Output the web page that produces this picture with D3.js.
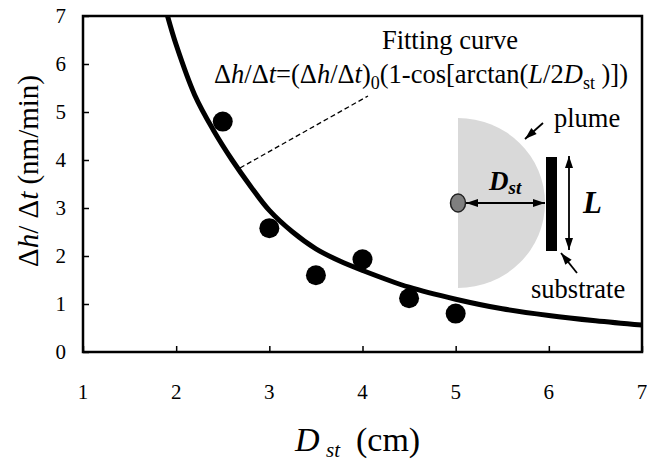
<!DOCTYPE html>
<html>
<head>
<meta charset="utf-8">
<script src="https://cdn.jsdelivr.net/npm/d3@7"></script>
<style>
  body { margin: 0; background: #fff; }
</style>
</head>
<body>
<svg id="chart" width="647" height="463"></svg>
<script>
// measured points (D_st in cm, deposition rate in nm/min)
const distances = [2.5, 3, 3.5, 4, 4.5, 5];
const rates = [4.8, 2.58, 1.6, 1.93, 1.12, 0.8];

// fitting curve
const curveD = [1.9, 2.0, 2.2, 2.4, 2.6, 2.8, 3.0, 3.25, 3.5, 3.75, 4.0, 4.5, 5.0, 5.5, 6.0, 6.5, 7.0];
const curveRate = [7.05, 6.4, 5.35, 4.62, 4.0, 3.45, 2.95, 2.5, 2.15, 1.9, 1.7, 1.35, 1.1, 0.9, 0.76, 0.65, 0.56];

const xTicks = [1, 2, 3, 4, 5, 6, 7];
const yTicks = [0, 1, 2, 3, 4, 5, 6, 7];

const cfg = {
  left: 83, right: 642, top: 16, bottom: 352,
  frameWidth: 2.5,
  tickLen: 6,
  tickFont: 21,
  noteFont: 26.5,
  pointR: 10,
  curveWidth: 5,
  font: "Liberation Serif",
};

const svg = d3.select("#chart");

const x = d3.scaleLinear().domain([1, 7]).range([cfg.left, cfg.right]);
const y = d3.scaleLinear().domain([0, 7]).range([cfg.bottom, cfg.top]);

svg.append("defs").append("clipPath").attr("id", "plot-clip")
  .append("rect")
  .attr("x", cfg.left).attr("y", cfg.top)
  .attr("width", cfg.right - cfg.left).attr("height", cfg.bottom - cfg.top);

// axes with inward ticks
const xAxis = svg.append("g")
  .attr("transform", `translate(0,${cfg.bottom})`)
  .call(d3.axisTop(x).tickValues(xTicks).tickSize(cfg.tickLen).tickFormat(""));
const yAxis = svg.append("g")
  .attr("transform", `translate(${cfg.left},0)`)
  .call(d3.axisRight(y).tickValues(yTicks).tickSize(cfg.tickLen).tickFormat(""));
[xAxis, yAxis].forEach((g) => {
  g.select(".domain").remove();
  g.selectAll(".tick line").attr("stroke", "#000").attr("stroke-width", 1.5);
});

// tick labels
svg.append("g").selectAll("text")
  .data(xTicks)
  .join("text")
  .attr("x", (d) => x(d))
  .attr("y", 399)
  .attr("text-anchor", "middle")
  .attr("font-size", cfg.tickFont)
  .text((d) => d);
svg.append("g").selectAll("text")
  .data(yTicks)
  .join("text")
  .attr("x", 66)
  .attr("y", (d) => y(d) + 7)
  .attr("text-anchor", "end")
  .attr("font-size", cfg.tickFont)
  .text((d) => d);

// frame
svg.append("rect")
  .attr("x", cfg.left).attr("y", cfg.top)
  .attr("width", cfg.right - cfg.left).attr("height", cfg.bottom - cfg.top)
  .attr("fill", "none")
  .attr("stroke", "#000")
  .attr("stroke-width", cfg.frameWidth);

// inset sketch: plume, source, substrate
const inset = svg.append("g").attr("class", "inset");
const cx = 458, cy = 203, rx = 87, ry = 85;
inset.append("path")
  .attr("d", `M ${cx} ${cy - ry} A ${rx} ${ry} 0 0 1 ${cx} ${cy + ry} Z`)
  .attr("fill", "#d9d9d9");

const arrowHead = (x1, y1, x2, y2, size = 12, half = 4) => {
  const a = Math.atan2(y2 - y1, x2 - x1);
  const bx = x2 - size * Math.cos(a), by = y2 - size * Math.sin(a);
  const px = -Math.sin(a) * half, py = Math.cos(a) * half;
  return `M ${x2} ${y2} L ${bx + px} ${by + py} L ${bx - px} ${by - py} Z`;
};
const arrow = (x1, y1, x2, y2, both) => {
  inset.append("line")
    .attr("x1", x1).attr("y1", y1).attr("x2", x2).attr("y2", y2)
    .attr("stroke", "#000").attr("stroke-width", 1.8);
  inset.append("path").attr("d", arrowHead(x1, y1, x2, y2)).attr("fill", "#000");
  if (both) inset.append("path").attr("d", arrowHead(x2, y2, x1, y1)).attr("fill", "#000");
};

arrow(466, cy, 545, cy, true);
inset.append("ellipse")
  .attr("cx", cx).attr("cy", cy).attr("rx", 7.5).attr("ry", 9)
  .attr("fill", "#7f7f7f").attr("stroke", "#222").attr("stroke-width", 1.5);
inset.append("rect")
  .attr("x", 546).attr("y", 157).attr("width", 11).attr("height", 94)
  .attr("fill", "#000");
arrow(569, 156, 569, 250, true);
arrow(543, 123, 525, 139, false);
arrow(577, 273, 561, 253, false);

const dst = inset.append("text")
  .attr("x", 489).attr("y", 190)
  .attr("font-size", 27).attr("font-weight", "bold").attr("font-style", "italic");
dst.append("tspan").text("D");
dst.append("tspan").attr("font-size", 19).attr("dy", 4).text("st");
inset.append("text")
  .attr("x", 583).attr("y", 213)
  .attr("font-size", 31).attr("font-weight", "bold").attr("font-style", "italic")
  .text("L");
inset.append("text").attr("x", 554).attr("y", 127).attr("font-size", cfg.noteFont).text("plume");
inset.append("text").attr("x", 531).attr("y", 298).attr("font-size", cfg.noteFont).text("substrate");

// fitting curve
svg.append("path")
  .datum(curveD.map((d, i) => [d, curveRate[i]]))
  .attr("clip-path", "url(#plot-clip)")
  .attr("fill", "none")
  .attr("stroke", "#000")
  .attr("stroke-width", cfg.curveWidth)
  .attr("d", d3.line().x((d) => x(d[0])).y((d) => y(d[1])).curve(d3.curveCatmullRom));

// data points
svg.append("g").selectAll("circle")
  .data(distances)
  .join("circle")
  .attr("cx", (d) => x(d))
  .attr("cy", (d, i) => y(rates[i]))
  .attr("r", cfg.pointR)
  .attr("fill", "#000");

// annotation
svg.append("line")
  .attr("x1", 240).attr("y1", 168).attr("x2", 368).attr("y2", 96)
  .attr("stroke", "#000").attr("stroke-width", 1.3).attr("stroke-dasharray", "5,3");
svg.append("text")
  .attr("x", 450).attr("y", 49).attr("text-anchor", "middle").attr("font-size", cfg.noteFont)
  .text("Fitting curve");
const eq = svg.append("text").attr("x", 214).attr("y", 83).attr("font-size", cfg.noteFont);
const parts = [
  ["Δ", 0], ["h", 1], ["/Δ", 0], ["t", 1], ["=(Δ", 0], ["h", 1], ["/Δ", 0], ["t", 1], [")", 0],
];
parts.forEach(([t, it]) => eq.append("tspan").attr("font-style", it ? "italic" : null).text(t));
eq.append("tspan").attr("font-size", 18).attr("dy", 6).text("0");
eq.append("tspan").attr("dy", -6).text("(1-cos[arctan(");
eq.append("tspan").attr("font-style", "italic").text("L");
eq.append("tspan").text("/2");
eq.append("tspan").attr("font-style", "italic").text("D");
eq.append("tspan").attr("font-size", 18).attr("dy", 6).text("st");
eq.append("tspan").attr("dy", -6).text(" )])");

// axis titles
const yt = svg.append("text")
  .attr("transform", "translate(38,171) rotate(-90)")
  .attr("text-anchor", "middle")
  .attr("font-size", 29);
yt.append("tspan").text("Δ");
yt.append("tspan").attr("font-style", "italic").text("h");
yt.append("tspan").text("/ Δ");
yt.append("tspan").attr("font-style", "italic").text("t");
yt.append("tspan").text(" (nm/min)");

const xt = svg.append("text")
  .attr("x", 295).attr("y", 451)
  .attr("font-size", 34);
xt.append("tspan").attr("font-style", "italic").text("D");
xt.append("tspan").attr("x", 326).attr("dy", 6).attr("font-style", "italic").attr("font-size", 21).text("st");
xt.append("tspan").attr("x", 356).attr("dy", -6).text("(cm)");

// serif font on every text element
svg.selectAll("text").attr("font-family", cfg.font);
</script>
</body>
</html>
